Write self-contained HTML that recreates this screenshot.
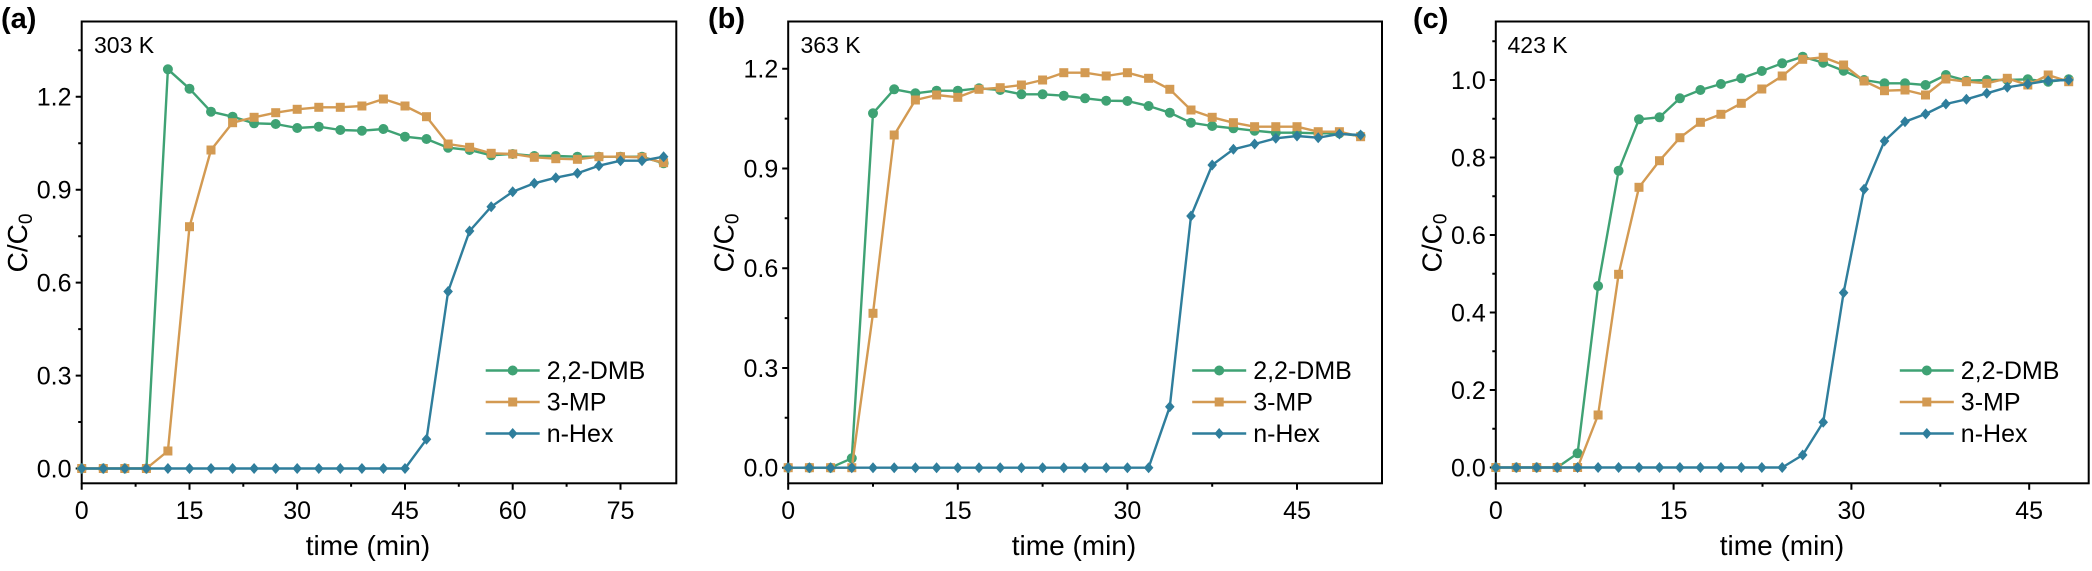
<!DOCTYPE html>
<html>
<head>
<meta charset="utf-8">
<style>
html,body{margin:0;padding:0;background:#fff;}
svg{display:block;}
text{font-family:"Liberation Sans",Arial,sans-serif;fill:#000;}
.tk{font-size:25px;}
.yt{font-size:25px;text-anchor:end;}
.xt{font-size:25px;text-anchor:middle;}
.xl{font-size:28px;text-anchor:middle;}
.lg{font-size:25px;}
.tp{font-size:23px;}
.pl{font-size:29px;font-weight:bold;}
.fr{fill:none;stroke:#000;stroke-width:2;}
.tick{stroke:#000;stroke-width:2;fill:none;}
.g{fill:none;stroke:#3fa274;stroke-width:2.4;stroke-linejoin:round;marker-start:url(#mg);marker-mid:url(#mg);marker-end:url(#mg);}
.o{fill:none;stroke:#d39a52;stroke-width:2.4;stroke-linejoin:round;marker-start:url(#mo);marker-mid:url(#mo);marker-end:url(#mo);}
.b{fill:none;stroke:#2f7e9c;stroke-width:2.4;stroke-linejoin:round;marker-start:url(#mb);marker-mid:url(#mb);marker-end:url(#mb);}
</style>
</head>
<body>
<svg width="2092" height="571" viewBox="0 0 2092 571" xmlns="http://www.w3.org/2000/svg">
<defs>
<marker id="mg" markerWidth="12" markerHeight="12" refX="6" refY="6" markerUnits="userSpaceOnUse" overflow="visible"><circle cx="6" cy="6" r="5" fill="#3fa274"/></marker>
<marker id="mo" markerWidth="12" markerHeight="12" refX="6" refY="6" markerUnits="userSpaceOnUse" overflow="visible"><rect x="1.5" y="1.5" width="9" height="9" fill="#d39a52"/></marker>
<marker id="mb" markerWidth="12" markerHeight="12" refX="6" refY="6" markerUnits="userSpaceOnUse" overflow="visible"><polygon points="6,0.5 10.8,6 6,11.5 1.2,6" fill="#2f7e9c"/></marker>
</defs>
<rect x="0" y="0" width="2092" height="571" fill="#fff"/>

<!-- ================= Panel (a) ================= -->
<text class="pl" x="1" y="28">(a)</text>
<rect class="fr" x="81.7" y="21.5" width="594.6" height="461.8"/>
<path class="tick" d="M81.7 483.3v6.5M189.5 483.3v6.5M297.2 483.3v6.5M405 483.3v6.5M512.7 483.3v6.5M620.5 483.3v6.5
M135.6 483.3v3.5M243.3 483.3v3.5M351.1 483.3v3.5M458.8 483.3v3.5M566.6 483.3v3.5
M81.7 468.5h-6M81.7 375.6h-6M81.7 282.6h-6M81.7 189.7h-6M81.7 96.7h-6
M81.7 422h-3.5M81.7 329.1h-3.5M81.7 236.2h-3.5M81.7 143.2h-3.5M81.7 50.3h-3.5"/>
<text class="xt" x="81.7" y="519">0</text>
<text class="xt" x="189.5" y="519">15</text>
<text class="xt" x="297.2" y="519">30</text>
<text class="xt" x="405" y="519">45</text>
<text class="xt" x="512.7" y="519">60</text>
<text class="xt" x="620.5" y="519">75</text>
<text class="yt" x="71.5" y="477.5">0.0</text>
<text class="yt" x="71.5" y="384.6">0.3</text>
<text class="yt" x="71.5" y="291.6">0.6</text>
<text class="yt" x="71.5" y="198.7">0.9</text>
<text class="yt" x="71.5" y="105.7">1.2</text>
<text class="xl" x="368" y="555">time (min)</text>
<text class="xl" transform="translate(27.2,243) rotate(-90)">C/C<tspan font-size="19" dy="5">0</tspan></text>
<text class="tp" x="94" y="53">303 K</text>

<polyline class="g" points="81.7,468.5 103.3,468.5 124.8,468.5 146.4,468.5 167.9,69.3 189.5,88.7 211,111.7 232.6,116.7 254.1,123.3 275.7,124 297.2,128 318.8,126.7 340.3,130 361.9,130.7 383.4,129 405,136.7 426.5,139 448.1,147.7 469.6,150 491.2,155.3 512.7,154 534.3,156 555.8,156 577.4,156.7 598.9,156.7 620.5,156.7 642,156.7 663.6,163.3"/>
<polyline class="o" points="81.7,468.5 103.3,468.5 124.8,468.5 146.4,468.5 167.9,451 189.5,226.7 211,150 232.6,122.7 254.1,117.3 275.7,112.7 297.2,109.3 318.8,107.3 340.3,107.3 361.9,106 383.4,99 405,106 426.5,116.7 448.1,144 469.6,147.3 491.2,153.3 512.7,154 534.3,157.3 555.8,158.7 577.4,159.3 598.9,156.7 620.5,156.7 642,157.3 663.6,162.7"/>
<polyline class="b" points="81.7,468.5 103.3,468.5 124.8,468.5 146.4,468.5 167.9,468.5 189.5,468.5 211,468.5 232.6,468.5 254.1,468.5 275.7,468.5 297.2,468.5 318.8,468.5 340.3,468.5 361.9,468.5 383.4,468.5 405,468.5 426.5,439.3 448.1,291.5 469.6,231 491.2,206.7 512.7,191.7 534.3,183.3 555.8,177.7 577.4,173.3 598.9,165.7 620.5,160.7 642,160.7 663.6,156.7"/>

<line x1="485.7" y1="370.5" x2="539.7" y2="370.5" stroke="#3fa274" stroke-width="2.4"/>
<circle cx="512.7" cy="370.5" r="5" fill="#3fa274"/>
<line x1="485.7" y1="402" x2="539.7" y2="402" stroke="#d39a52" stroke-width="2.4"/>
<rect x="508.2" y="397.5" width="9" height="9" fill="#d39a52"/>
<line x1="485.7" y1="433.5" x2="539.7" y2="433.5" stroke="#2f7e9c" stroke-width="2.4"/>
<polygon points="512.7,428 517.5,433.5 512.7,439 507.9,433.5" fill="#2f7e9c"/>
<text class="lg" x="546.7" y="379">2,2-DMB</text>
<text class="lg" x="546.7" y="410.5">3-MP</text>
<text class="lg" x="546.7" y="442">n-Hex</text>

<!-- ================= Panel (b) ================= -->
<text class="pl" x="708" y="28">(b)</text>
<rect class="fr" x="788.2" y="21.5" width="593.8" height="461.8"/>
<path class="tick" d="M788.2 483.3v6.5M957.8 483.3v6.5M1127.4 483.3v6.5M1297 483.3v6.5
M873 483.3v3.5M1042.6 483.3v3.5M1212.2 483.3v3.5
M788.2 467.7h-6M788.2 367.95h-6M788.2 268.2h-6M788.2 168.45h-6M788.2 68.7h-6
M788.2 417.8h-3.5M788.2 318.1h-3.5M788.2 218.3h-3.5M788.2 118.6h-3.5"/>
<text class="xt" x="788.2" y="519">0</text>
<text class="xt" x="957.8" y="519">15</text>
<text class="xt" x="1127.4" y="519">30</text>
<text class="xt" x="1297" y="519">45</text>
<text class="yt" x="778.3" y="476.7">0.0</text>
<text class="yt" x="778.3" y="377">0.3</text>
<text class="yt" x="778.3" y="277.2">0.6</text>
<text class="yt" x="778.3" y="177.5">0.9</text>
<text class="yt" x="778.3" y="77.7">1.2</text>
<text class="xl" x="1074" y="555">time (min)</text>
<text class="xl" transform="translate(733.7,243) rotate(-90)">C/C<tspan font-size="19" dy="5">0</tspan></text>
<text class="tp" x="800.5" y="53">363 K</text>

<polyline class="g" points="788.2,467.7 809.4,467.7 830.6,467.7 851.8,458.3 873,113.3 894.2,89.3 915.4,93.3 936.6,90.7 957.8,90.7 979,88.3 1000.2,90 1021.4,94.3 1042.6,94.3 1063.8,95.7 1085,98.3 1106.2,100.7 1127.4,101 1148.6,106 1169.8,112.7 1191,122.7 1212.2,126 1233.4,128.3 1254.6,130.7 1275.8,132.7 1297,132.7 1318.2,133.3 1339.4,133.3 1360.6,136"/>
<polyline class="o" points="788.2,467.7 809.4,467.7 830.6,467.7 851.8,467.7 873,313.3 894.2,135 915.4,100 936.6,95 957.8,97.3 979,89.3 1000.2,87.7 1021.4,85 1042.6,80 1063.8,72.7 1085,72.7 1106.2,76 1127.4,72.7 1148.6,78.3 1169.8,89.3 1191,110 1212.2,117.3 1233.4,122.7 1254.6,126.7 1275.8,126.7 1297,126.7 1318.2,131.7 1339.4,131.7 1360.6,136.7"/>
<polyline class="b" points="788.2,467.7 809.4,467.7 830.6,467.7 851.8,467.7 873,467.7 894.2,467.7 915.4,467.7 936.6,467.7 957.8,467.7 979,467.7 1000.2,467.7 1021.4,467.7 1042.6,467.7 1063.8,467.7 1085,467.7 1106.2,467.7 1127.4,467.7 1148.6,467.7 1169.8,406.7 1191,216 1212.2,165 1233.4,149.3 1254.6,144 1275.8,138.3 1297,136 1318.2,137.7 1339.4,134 1360.6,135"/>

<line x1="1192.2" y1="370.5" x2="1246.2" y2="370.5" stroke="#3fa274" stroke-width="2.4"/>
<circle cx="1219.2" cy="370.5" r="5" fill="#3fa274"/>
<line x1="1192.2" y1="402" x2="1246.2" y2="402" stroke="#d39a52" stroke-width="2.4"/>
<rect x="1214.7" y="397.5" width="9" height="9" fill="#d39a52"/>
<line x1="1192.2" y1="433.5" x2="1246.2" y2="433.5" stroke="#2f7e9c" stroke-width="2.4"/>
<polygon points="1219.2,428 1224,433.5 1219.2,439 1214.4,433.5" fill="#2f7e9c"/>
<text class="lg" x="1253.2" y="379">2,2-DMB</text>
<text class="lg" x="1253.2" y="410.5">3-MP</text>
<text class="lg" x="1253.2" y="442">n-Hex</text>

<!-- ================= Panel (c) ================= -->
<text class="pl" x="1413" y="28">(c)</text>
<rect class="fr" x="1495.8" y="21.5" width="592.9" height="461.8"/>
<path class="tick" d="M1495.8 483.3v6.5M1673.6 483.3v6.5M1851.4 483.3v6.5M2029.2 483.3v6.5
M1584.7 483.3v3.5M1762.5 483.3v3.5M1940.3 483.3v3.5
M1495.8 467.5h-6M1495.8 390h-6M1495.8 312.5h-6M1495.8 235h-6M1495.8 157.5h-6M1495.8 80h-6
M1495.8 428.75h-3.5M1495.8 351.25h-3.5M1495.8 273.75h-3.5M1495.8 196.25h-3.5M1495.8 118.75h-3.5M1495.8 41.25h-3.5"/>
<text class="xt" x="1495.8" y="519">0</text>
<text class="xt" x="1673.6" y="519">15</text>
<text class="xt" x="1851.4" y="519">30</text>
<text class="xt" x="2029.2" y="519">45</text>
<text class="yt" x="1485.8" y="476.5">0.0</text>
<text class="yt" x="1485.8" y="399">0.2</text>
<text class="yt" x="1485.8" y="321.5">0.4</text>
<text class="yt" x="1485.8" y="244">0.6</text>
<text class="yt" x="1485.8" y="166.5">0.8</text>
<text class="yt" x="1485.8" y="89">1.0</text>
<text class="xl" x="1782" y="555">time (min)</text>
<text class="xl" transform="translate(1441.3,243) rotate(-90)">C/C<tspan font-size="19" dy="5">0</tspan></text>
<text class="tp" x="1507.5" y="53">423 K</text>

<polyline class="g" points="1495.8,467.5 1516.3,467.5 1536.7,467.5 1557.2,467.5 1577.6,453.3 1598.1,286 1618.6,170.7 1639,119.3 1659.5,117.3 1679.9,98.3 1700.4,90 1720.9,84 1741.3,78.3 1761.8,71 1782.2,63.3 1802.7,56.7 1823.2,62.7 1843.6,70.7 1864.1,80 1884.5,83.3 1905,83.3 1925.5,85 1945.9,75 1966.4,80.7 1986.8,80 2007.3,80 2027.8,79.3 2048.2,81.7 2068.7,79.3"/>
<polyline class="o" points="1495.8,467.5 1516.3,467.5 1536.7,467.5 1557.2,467.5 1577.6,467.5 1598.1,415 1618.6,274.3 1639,187.3 1659.5,160.7 1679.9,137.7 1700.4,122.3 1720.9,114.3 1741.3,103.3 1761.8,89 1782.2,76 1802.7,59.3 1823.2,57.3 1843.6,65 1864.1,81 1884.5,90.7 1905,90 1925.5,95 1945.9,79 1966.4,81.7 1986.8,83.3 2007.3,78.3 2027.8,85 2048.2,75 2068.7,81.7"/>
<polyline class="b" points="1495.8,467.5 1516.3,467.5 1536.7,467.5 1557.2,467.5 1577.6,467.5 1598.1,467.5 1618.6,467.5 1639,467.5 1659.5,467.5 1679.9,467.5 1700.4,467.5 1720.9,467.5 1741.3,467.5 1761.8,467.5 1782.2,467.5 1802.7,455 1823.2,422.3 1843.6,292.7 1864.1,189.3 1884.5,141 1905,121.7 1925.5,114 1945.9,104 1966.4,99.3 1986.8,93.3 2007.3,87.3 2027.8,84 2048.2,80.7 2068.7,80"/>

<line x1="1899.8" y1="370.5" x2="1953.8" y2="370.5" stroke="#3fa274" stroke-width="2.4"/>
<circle cx="1926.8" cy="370.5" r="5" fill="#3fa274"/>
<line x1="1899.8" y1="402" x2="1953.8" y2="402" stroke="#d39a52" stroke-width="2.4"/>
<rect x="1922.3" y="397.5" width="9" height="9" fill="#d39a52"/>
<line x1="1899.8" y1="433.5" x2="1953.8" y2="433.5" stroke="#2f7e9c" stroke-width="2.4"/>
<polygon points="1926.8,428 1931.6,433.5 1926.8,439 1922,433.5" fill="#2f7e9c"/>
<text class="lg" x="1960.8" y="379">2,2-DMB</text>
<text class="lg" x="1960.8" y="410.5">3-MP</text>
<text class="lg" x="1960.8" y="442">n-Hex</text>
</svg>
</body>
</html>
